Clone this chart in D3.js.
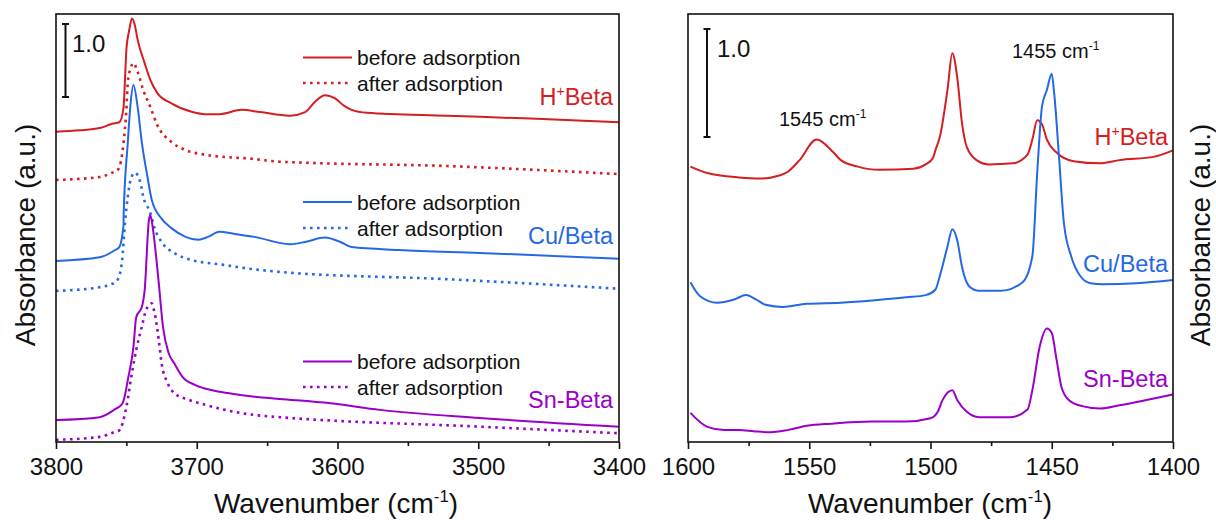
<!DOCTYPE html>
<html><head><meta charset="utf-8">
<script src="https://cdn.jsdelivr.net/npm/d3@7"></script>
<style>
body{margin:0;background:#fff}
svg{display:block}
text{font-family:"Liberation Sans",Arial,sans-serif;fill:#111}
</style>
</head><body>
<svg id="c" width="1216" height="527"></svg>
<script>
// ---------- tick labels ----------
const leftTicks = [3800, 3700, 3600, 3500, 3400];
const leftMinor = [3750, 3650, 3550, 3450];
const rightTicks = [1600, 1550, 1500, 1450, 1400];
const rightMinor = [1575, 1525, 1475, 1425];
const samples = ["H+Beta", "Cu/Beta", "Sn-Beta"];
const legendLabels = ["before adsorption", "after adsorption"];
const peakLabels = [1545, 1455];

// ---------- left panel (OH region), offset-stacked absorbance ----------
const hBeforeWn = [3800,3783,3769,3760,3755,3752,3751,3750,3748,3746,3744,3742,3737,3733,3728,3718,3703,3694,3684,3668,3655,3634,3623,3616,3609,3602,3595,3590,3579,3522,3463,3400];
const hBeforeA  = [4.25,4.27,4.30,4.36,4.38,4.58,4.96,5.37,5.64,5.80,5.71,5.51,5.19,4.96,4.78,4.64,4.52,4.49,4.49,4.55,4.52,4.47,4.52,4.66,4.75,4.71,4.60,4.55,4.51,4.47,4.43,4.38];

const hAfterWn = [3800,3769,3760,3756,3752,3750,3749,3747,3745,3742,3738,3733,3728,3718,3708,3692,3661,3641,3522,3400];
const hAfterA  = [3.59,3.63,3.69,3.73,4.10,4.55,4.92,5.12,5.19,5.07,4.82,4.59,4.34,4.11,4.00,3.93,3.88,3.84,3.78,3.67];

const cuBeforeWn = [3800,3769,3758,3755,3752,3752,3749,3747,3745,3742,3739,3735,3732,3725,3718,3708,3699,3692,3684,3673,3659,3634,3623,3609,3598,3590,3556,3499,3400];
const cuBeforeA  = [2.48,2.53,2.63,2.67,2.97,3.08,4.10,4.64,4.89,4.59,4.10,3.63,3.32,3.06,2.93,2.81,2.77,2.81,2.88,2.85,2.81,2.71,2.74,2.80,2.74,2.67,2.63,2.59,2.51];

const cuAfterWn = [3800,3769,3758,3756,3753,3751,3749,3747,3744,3740,3738,3733,3730,3725,3716,3703,3682,3661,3641,3522,3400];
const cuAfterA  = [2.07,2.12,2.19,2.23,2.49,3.00,3.36,3.59,3.69,3.55,3.36,3.14,2.93,2.74,2.59,2.49,2.43,2.37,2.33,2.23,2.10];

const snBeforeWn = [3800,3769,3758,3753,3751,3749,3745,3743,3739,3737,3734,3733,3731,3727,3724,3720,3716,3710,3701,3689,3678,3659,3641,3605,3570,3499,3400];
const snBeforeA  = [0.30,0.34,0.45,0.52,0.64,0.85,1.30,1.71,1.85,2.08,3.04,3.11,2.90,2.18,1.58,1.22,1.08,0.89,0.78,0.71,0.67,0.62,0.59,0.53,0.44,0.33,0.21];

const snAfterWn = [3800,3769,3758,3755,3750,3746,3743,3739,3736,3732,3730,3727,3725,3721,3716,3706,3694,3680,3659,3641,3499,3400];
const snAfterA  = [0.03,0.07,0.14,0.16,0.48,0.95,1.26,1.58,1.81,1.90,1.77,1.40,1.08,0.82,0.67,0.58,0.51,0.44,0.37,0.34,0.21,0.12];

// ---------- right panel (pyridine region), offset-stacked absorbance ----------
const hPyWn = [1599,1592,1579,1570,1562,1559,1554,1547,1540,1537,1530,1521,1507,1502,1499,1498,1496,1493,1491,1489,1487,1485,1481,1476,1466,1460,1458,1456,1454,1452,1448,1441,1430,1422,1408,1400];
const hPyA  = [2.55,2.49,2.45,2.44,2.47,2.50,2.61,2.80,2.68,2.61,2.55,2.52,2.53,2.57,2.63,2.70,2.84,3.26,3.60,3.38,2.95,2.73,2.61,2.57,2.58,2.66,2.80,2.98,2.94,2.80,2.68,2.60,2.58,2.61,2.64,2.70];

const cuPyWn = [1599,1595,1588,1581,1576,1572,1568,1561,1551,1537,1524,1510,1502,1498,1496,1493,1491,1489,1487,1484,1480,1471,1462,1458,1456,1454,1452,1450,1449,1447,1445,1442,1438,1434,1429,1415,1400];
const cuPyA  = [1.48,1.35,1.29,1.32,1.36,1.32,1.27,1.25,1.28,1.29,1.31,1.34,1.36,1.41,1.55,1.81,1.97,1.87,1.62,1.44,1.40,1.40,1.48,1.72,2.49,3.11,3.26,3.41,3.23,2.64,2.03,1.72,1.53,1.47,1.46,1.47,1.50];

const snPyWn = [1599,1592,1585,1579,1573,1566,1559,1551,1541,1524,1510,1500,1497,1495,1491,1489,1485,1480,1467,1460,1458,1455,1452,1450,1448,1446,1443,1437,1430,1422,1400];
const snPyA  = [0.27,0.14,0.11,0.11,0.10,0.09,0.11,0.15,0.17,0.19,0.19,0.22,0.28,0.39,0.48,0.39,0.28,0.23,0.23,0.30,0.48,0.88,1.05,1.01,0.76,0.51,0.39,0.33,0.31,0.34,0.44];

// ---------- drawing ----------
const RED = "#d41e22", BLUE = "#2468e6", PURPLE = "#9a00c8";
const colors = [RED, BLUE, PURPLE];
const svg = d3.select("#c");
const TOP = 14, BOTTOM = 442;

function makePanel(x0, x1, domain, yUnitPx) {
  const x = d3.scaleLinear().domain(domain).range([x0, x1]);
  const y = d3.scaleLinear().domain([0, (BOTTOM - TOP) / yUnitPx]).range([BOTTOM, TOP]);
  return {x, y};
}
const L = makePanel(56, 619, [3800, 3400], 73);
const R = makePanel(688, 1173, [1600, 1400], 108);

function drawCurve(p, wn, a, color, dotted) {
  const line = d3.line().x(d => p.x(d[0])).y(d => p.y(d[1])).curve(d3.curveMonotoneX);
  svg.append("path").datum(d3.zip(wn, a))
    .attr("d", line).attr("fill", "none").attr("stroke", color)
    .attr("stroke-width", dotted ? 2.6 : 2)
    .attr("stroke-dasharray", dotted ? "2.6,4.4" : null)
    .attr("stroke-linejoin", "round");
}

drawCurve(L, hBeforeWn, hBeforeA, RED, false);
drawCurve(L, hAfterWn, hAfterA, RED, true);
drawCurve(L, cuBeforeWn, cuBeforeA, BLUE, false);
drawCurve(L, cuAfterWn, cuAfterA, BLUE, true);
drawCurve(L, snBeforeWn, snBeforeA, PURPLE, false);
drawCurve(L, snAfterWn, snAfterA, PURPLE, true);
drawCurve(R, hPyWn, hPyA, RED, false);
drawCurve(R, cuPyWn, cuPyA, BLUE, false);
drawCurve(R, snPyWn, snPyA, PURPLE, false);

function frameAndAxis(p, major, minor) {
  const [x0, x1] = p.x.range();
  svg.append("rect").attr("x", x0).attr("y", TOP).attr("width", x1 - x0).attr("height", BOTTOM - TOP)
    .attr("fill", "none").attr("stroke", "#111").attr("stroke-width", 1.6);
  const gMin = svg.append("g").attr("transform", `translate(0,${BOTTOM})`)
    .call(d3.axisBottom(p.x).tickValues(minor).tickSize(4).tickSizeOuter(0).tickFormat(""));
  const gMaj = svg.append("g").attr("transform", `translate(0,${BOTTOM})`)
    .call(d3.axisBottom(p.x).tickValues(major).tickSize(7).tickSizeOuter(0).tickFormat(d3.format("d")));
  [gMin, gMaj].forEach(g => {
    g.select(".domain").remove();
    g.selectAll("line").attr("stroke", "#111").attr("stroke-width", 1.6);
  });
  gMaj.selectAll("text").attr("y", 33).attr("dy", null)
    .style("font-size", "24px").style("font-family", '"Liberation Sans",Arial,sans-serif').attr("fill", "#111");
}
frameAndAxis(L, leftTicks, leftMinor);
frameAndAxis(R, rightTicks, rightMinor);

// scale bars (1.0 absorbance)
function scaleBar(p, xPx, topA, tx, ty) {
  const yt = p.y(topA), yb = p.y(topA - 1.0);
  const g = svg.append("g").attr("stroke", "#111").attr("stroke-width", 2);
  g.append("line").attr("x1", xPx).attr("x2", xPx).attr("y1", yt).attr("y2", yb);
  g.append("line").attr("x1", xPx - 3.5).attr("x2", xPx + 3.5).attr("y1", yt).attr("y2", yt);
  g.append("line").attr("x1", xPx - 3.5).attr("x2", xPx + 3.5).attr("y1", yb).attr("y2", yb);
  svg.append("text").attr("x", tx).attr("y", ty).style("font-size", "24px").text("1.0");
}
scaleBar(L, 65.5, (BOTTOM - 24) / 73, 72, 52);
scaleBar(R, 707, (BOTTOM - 29) / 108, 717, 57);

// sample labels with superscript
function sampleLabel(name, xr, yb, color, size) {
  const t = svg.append("text").attr("x", xr).attr("y", yb).attr("text-anchor", "end")
    .style("font-size", size + "px").style("fill", color);
  if (name.startsWith("H+")) {
    t.append("tspan").text("H");
    t.append("tspan").attr("dy", -size * 0.38).style("font-size", (size * 0.6) + "px").text("+");
    t.append("tspan").attr("dy", size * 0.38).text(name.slice(2));
  } else t.text(name);
}
const leftLabelY = [105, 244, 408];
const rightLabelY = [145, 272, 387];
samples.forEach((s, i) => {
  sampleLabel(s, 613, leftLabelY[i], colors[i], 23.5);
  sampleLabel(s, 1168, rightLabelY[i], colors[i], 23.5);
});

// legends
const legendRows = [[57.5, 83], [202, 228], [361.5, 387]];
legendRows.forEach((rows, i) => {
  rows.forEach((yy, j) => {
    svg.append("line").attr("x1", 303).attr("x2", 352).attr("y1", yy).attr("y2", yy)
      .attr("stroke", colors[i]).attr("stroke-width", j ? 2.6 : 2)
      .attr("stroke-dasharray", j ? "2.6,4.4" : null);
    svg.append("text").attr("x", 357).attr("y", yy + 7.5).style("font-size", "21px").text(legendLabels[j]);
  });
});

// peak annotations
function supText(x, y, main, sup, tail, size, anchor, rot) {
  const t = svg.append("text").attr("x", x).attr("y", y).style("font-size", size + "px")
    .attr("text-anchor", anchor || "start");
  if (rot) t.attr("transform", `rotate(-90,${x},${y})`);
  t.append("tspan").text(main);
  t.append("tspan").attr("dy", -size * 0.4).style("font-size", (size * 0.6) + "px").text(sup);
  if (tail) t.append("tspan").attr("dy", size * 0.4).text(tail);
  return t;
}
supText(779, 126, peakLabels[0] + " cm", "-1", "", 20);
supText(1012, 58, peakLabels[1] + " cm", "-1", "", 20);

// axis titles
supText(336, 513, "Wavenumber (cm", "-1", ")", 28, "middle");
supText(930, 513, "Wavenumber (cm", "-1", ")", 28, "middle");
svg.append("text").attr("transform", "translate(35,235) rotate(-90)").attr("text-anchor", "middle")
  .style("font-size", "28px").text("Absorbance (a.u.)");
svg.append("text").attr("transform", "translate(1210,235) rotate(-90)").attr("text-anchor", "middle")
  .style("font-size", "28px").text("Absorbance (a.u.)");
</script>
</body></html>
